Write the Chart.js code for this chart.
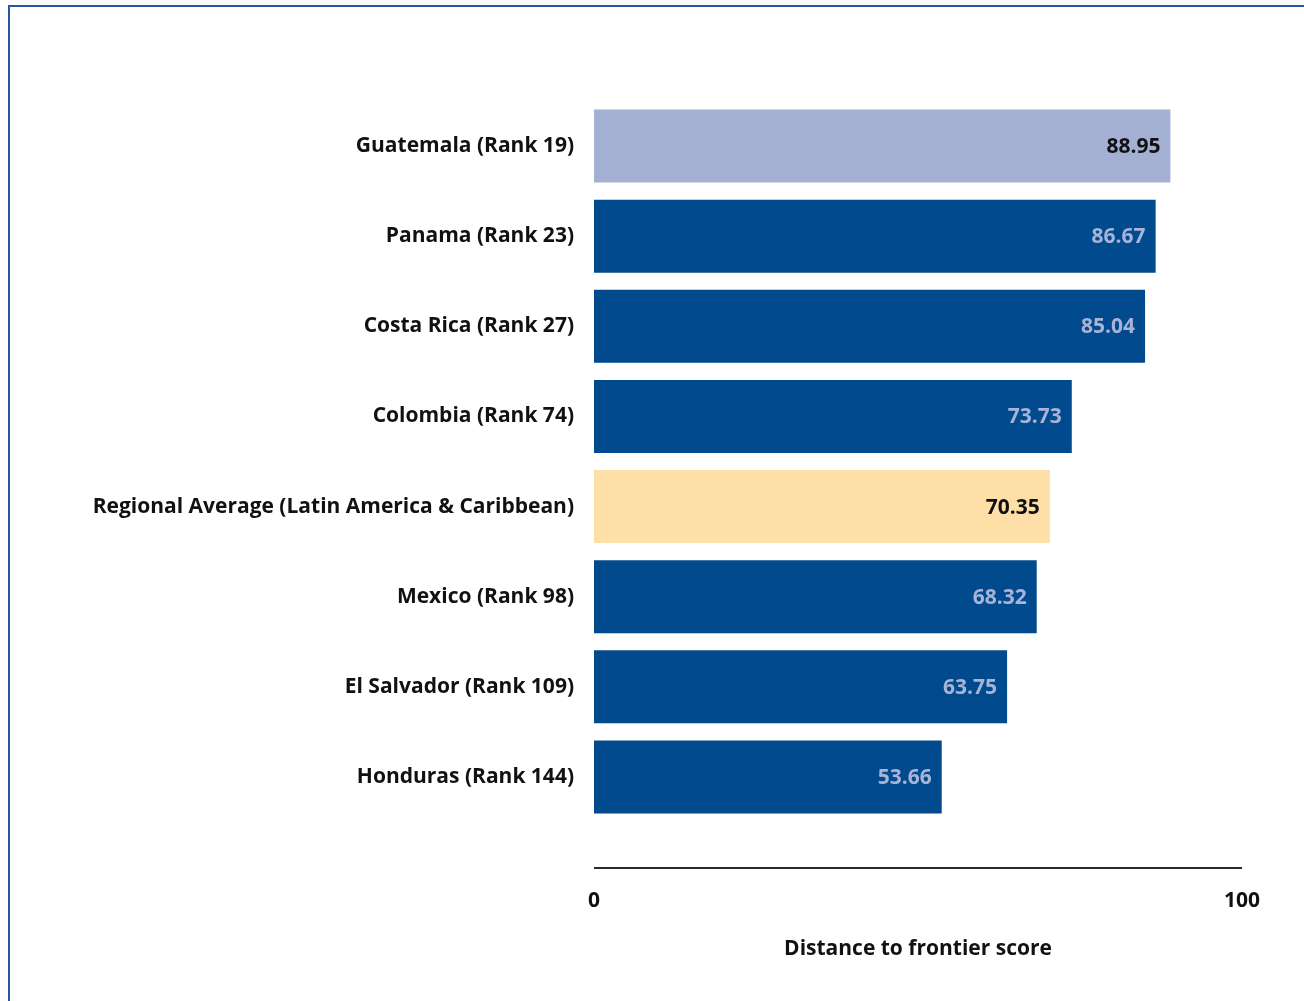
<!DOCTYPE html>
<html>
<head>
<meta charset="utf-8">
<script src="https://cdn.jsdelivr.net/npm/chart.js@4/dist/chart.umd.min.js"></script>
<style>
  html, body { margin: 0; padding: 0; background: #fff; overflow: hidden; }
  #frame {
    position: absolute; left: 8px; top: 5px; width: 1320px; height: 1020px;
    border-left: 2px solid #2457a3; border-top: 2px solid #2457a3;
  }
  #chart { position: absolute; left: 0; top: 0; }
</style>
</head>
<body>
<div id="frame"></div>
<canvas id="chart" width="1304" height="1001"></canvas>
<script>
const countries = [
  'Guatemala (Rank 19)',
  'Panama (Rank 23)',
  'Costa Rica (Rank 27)',
  'Colombia (Rank 74)',
  'Regional Average (Latin America & Caribbean)',
  'Mexico (Rank 98)',
  'El Salvador (Rank 109)',
  'Honduras (Rank 144)'
];
const scores = [88.95, 86.67, 85.04, 73.73, 70.35, 68.32, 63.75, 53.66];
const barColors = ['#a3b0d3', '#004a8d', '#004a8d', '#004a8d', '#ffdfa8', '#004a8d', '#004a8d', '#004a8d'];
const valueColors = ['#111111', '#a7b4d8', '#a7b4d8', '#a7b4d8', '#111111', '#a7b4d8', '#a7b4d8', '#a7b4d8'];
const xTicks = [0, 100];
const xTitle = 'Distance to frontier score';

const FONT = "'Open Sans', sans-serif";

// value labels inside the bar end + the detached axis line
const extras = {
  id: 'extras',
  afterDatasetsDraw(chart) {
    const ctx = chart.ctx;
    const meta = chart.getDatasetMeta(0);
    ctx.save();
    ctx.font = 'bold 21px ' + FONT;
    ctx.textAlign = 'right';
    ctx.textBaseline = 'middle';
    meta.data.forEach((bar, i) => {
      ctx.fillStyle = valueColors[i];
      ctx.fillText(scores[i].toFixed(2), bar.x - 10, bar.y + 1);
    });
    const x = chart.scales.x;
    const y = chart.chartArea.bottom + 46;
    ctx.strokeStyle = '#2a2a2a';
    ctx.lineWidth = 2;
    ctx.beginPath();
    ctx.moveTo(x.getPixelForValue(0), y);
    ctx.lineTo(x.getPixelForValue(100), y);
    ctx.stroke();
    ctx.restore();
  }
};

new Chart(document.getElementById('chart'), {
  type: 'bar',
  data: {
    labels: countries,
    datasets: [{
      data: scores,
      backgroundColor: barColors,
      categoryPercentage: 0.9,
      barPercentage: 0.9
    }]
  },
  options: {
    indexAxis: 'y',
    responsive: false,
    animation: false,
    layout: { padding: { top: 101, right: 62, bottom: 39, left: 0 } },
    plugins: { legend: { display: false }, tooltip: { enabled: false } },
    scales: {
      y: {
        grid: { display: false, drawTicks: false },
        border: { display: false },
        afterFit(scale) { scale.width = 594; },
        ticks: { color: '#111', padding: 20, font: { family: FONT, size: 21, weight: 'bold' } }
      },
      x: {
        min: 0, max: 100,
        afterBuildTicks(scale) { scale.ticks = xTicks.map(v => ({ value: v })); },
        afterFit(scale) {
          scale.height = 140;
          // the big tick padding should not shrink the plot sideways
          scale.paddingLeft = 0;
          scale.paddingRight = 20;
        },
        grid: { display: false, drawTicks: false },
        border: { display: false },
        ticks: { color: '#111', padding: 66, maxRotation: 0, font: { family: FONT, size: 21, weight: 'bold' } },
        title: {
          display: true, text: xTitle, color: '#111',
          padding: { top: 26, bottom: 0 },
          font: { family: FONT, size: 21, weight: 'bold' }
        }
      }
    }
  },
  plugins: [extras]
});
</script>
</body>
</html>
